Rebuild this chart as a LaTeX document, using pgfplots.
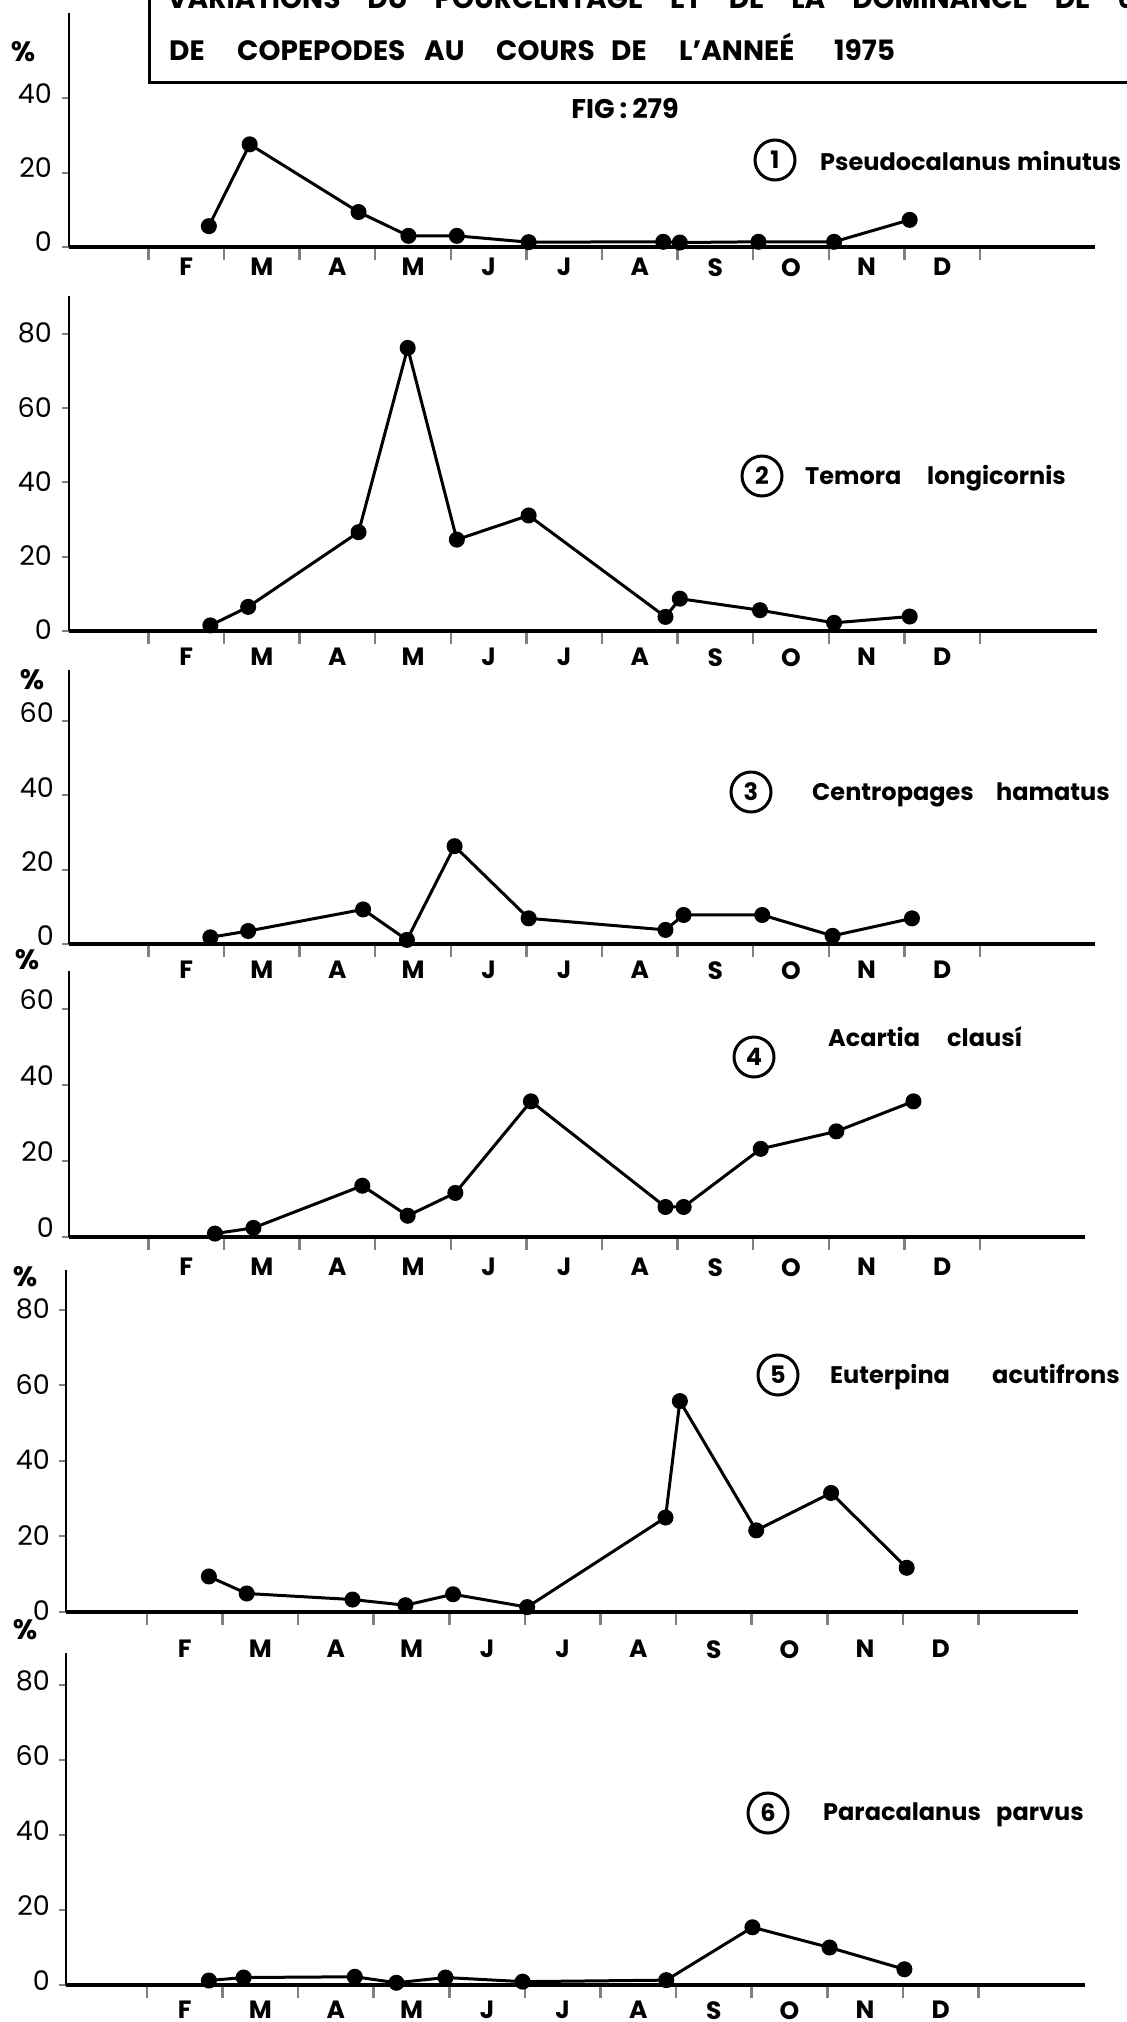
\documentclass[border=0pt]{standalone}
\usepackage{fontspec}
\setmainfont{Poppins}
\usepackage{pgfplots}
\pgfplotsset{compat=1.18}

% one picture pixel = 1pt
\newcommand\lab{\fontsize{24}{24}\selectfont\bfseries}
\newcommand\mon{\fontsize{25}{25}\selectfont\bfseries}
\newcommand\num{\fontsize{27}{27}\selectfont}

\pgfplotsset{
  copepode/.style={
    anchor=south west,
    x=75.6pt,
    axis lines=left,
    axis line style={-},
    x axis line style={line width=4pt},
    y axis line style={line width=2.5pt},
    clip=false,
    ymin=0,
    xtick={1.5,2.5,...,11.5},
    xticklabels={F,M,A,M,J,J,A,S,O,N,D},
    minor xtick={1,2,...,12},
    major x tick style={draw=none},
    minor x tick style={line width=2.5pt},
    major y tick style={line width=2pt},
    minor tick length=13pt,
    major tick length=7pt,
    tick align=outside,
    xticklabel style={font=\mon, inner sep=0pt},
    yticklabel style={font=\num, anchor=east, inner sep=0pt},
    /pgf/number format/assume math mode=true,
  },
  data/.style={black, line width=3pt, mark=*, mark size=6.5pt},
}

\begin{document}
\begin{tikzpicture}
\useasboundingbox (0,0) rectangle (1127pt,-2022pt);
\clip (0,0) rectangle (1127pt,-2022pt);

% title box
\draw[line width=3pt] (149pt,20pt) -- (149pt,-82pt) -- (1160pt,-82pt);
\begin{scope}[every node/.style={anchor=base west, inner sep=0pt, font=\fontsize{28}{28}\selectfont\bfseries}]
\node at (167pt,-8pt) {\hbox to 968pt{VARIATIONS\hfill DU\hfill POURCENTAGE\hfill ET\hfill DE\hfill LA\hfill DOMINANCE\hfill DE\hfill 6}};
\node at (169pt,-60pt) {DE};
\node at (237pt,-60pt) {COPEPODES};
\node at (424pt,-60pt) {AU};
\node at (496pt,-60pt) {COURS};
\node at (611pt,-60pt) {DE};
\node at (679pt,-60pt) {L'ANNEÉ};
\node at (834pt,-60pt) {1975};
\end{scope}
\node[anchor=base, inner sep=0pt, font=\fontsize{27}{27}\selectfont\bfseries] at (625pt,-118pt) {FIG\hspace{5pt}:\hspace{5pt}279};

% 1 Pseudocalanus minutus
\begin{axis}[copepode, at={(69pt,-247pt)}, y=3.72pt,
  xmin=-0.05, xmax=13.52, ymax=62.9,
  ytick={0,20,40}, yticklabels={0,20,40},
  xticklabel style={yshift=-4pt}, yticklabel style={xshift=-10pt, yshift=5pt}]
\addplot[data] coordinates {(1.80,5.6) (2.34,27.6) (3.78,9.4) (4.44,3.0) (5.08,3.0)
  (6.03,1.3) (7.81,1.4) (8.03,1.2) (9.07,1.4) (10.07,1.4) (11.07,7.3)};
\end{axis}

% 2 Temora longicornis
\begin{axis}[copepode, at={(69pt,-631pt)}, y=3.715pt,
  xmin=-0.05, xmax=13.55, ymax=90.3,
  ytick={0,20,40,60,80}, yticklabels={0,20,40,60,80},
  xticklabel style={yshift=-10pt}, yticklabel style={xshift=-10pt, yshift=1pt}]
\addplot[data] coordinates {(1.82,1.5) (2.32,6.5) (3.78,26.6) (4.43,76.2) (5.08,24.6)
  (6.03,31.1) (7.84,3.8) (8.03,8.7) (9.09,5.6) (10.07,2.2) (11.07,3.9)};
\end{axis}

% 3 Centropages hamatus
\begin{axis}[copepode, at={(69pt,-944pt)}, y=3.72pt,
  xmin=-0.05, xmax=13.52, ymax=73.7,
  ytick={0,20,40,60}, yticklabels={0,20,40,60},
  xticklabel style={yshift=-10pt}, yticklabel style={xshift=-8pt, yshift=8pt}]
\addplot[data] coordinates {(1.82,1.8) (2.32,3.5) (3.84,9.3) (4.42,1.1) (5.05,26.3)
  (6.03,6.9) (7.84,3.8) (8.08,7.8) (9.12,7.8) (10.05,2.2) (11.10,6.9)};
\end{axis}

% 4 Acartia clausi
\begin{axis}[copepode, at={(69pt,-1237pt)}, y=3.8pt,
  xmin=-0.05, xmax=13.39, ymax=70,
  ytick={0,20,40,60}, yticklabels={0,20,40,60},
  xticklabel style={yshift=-14pt}, yticklabel style={xshift=-8pt, yshift=9pt}]
\addplot[data] coordinates {(1.88,0.9) (2.39,2.4) (3.83,13.5) (4.43,5.6) (5.06,11.6)
  (6.06,35.7) (7.84,7.9) (8.08,7.9) (9.10,23.2) (10.10,27.8) (11.12,35.7)};
\end{axis}

% 5 Euterpina acutifrons
\begin{axis}[copepode, at={(66pt,-1612pt)}, y=3.78pt,
  xmin=-0.07, xmax=13.32, ymax=90.4,
  ytick={0,20,40,60,80}, yticklabels={0,20,40,60,80},
  xticklabel style={yshift=-21pt}, yticklabel style={xshift=-9pt, yshift=1pt}]
\addplot[data] coordinates {(1.82,9.4) (2.32,4.9) (3.72,3.3) (4.42,1.8) (5.05,4.7)
  (6.03,1.3) (7.86,25.0) (8.05,55.8) (9.06,21.6) (10.05,31.5) (11.05,11.7)};
\end{axis}

% 6 Paracalanus parvus
\begin{axis}[copepode, at={(66pt,-1985pt)}, y=3.75pt,
  xmin=-0.07, xmax=13.41, ymax=88.5,
  ytick={0,20,40,60,80}, yticklabels={0,20,40,60,80},
  xticklabel style={yshift=-9pt}, yticklabel style={xshift=-9pt, yshift=4pt}]
\addplot[data] coordinates {(1.82,1.2) (2.28,2.0) (3.75,2.2) (4.30,0.6) (4.95,2.0)
  (5.97,0.9) (7.87,1.3) (9.01,15.4) (10.03,10.0) (11.02,4.2)};
\end{axis}

% percent signs
\begin{scope}[every node/.style={inner sep=0pt, font=\fontsize{28}{28}\selectfont\bfseries}]
\node at (23pt,-52pt) {\%};
\node at (32pt,-680pt) {\%};
\node at (27pt,-960pt) {\%};
\node at (25pt,-1277pt) {\%};
\node at (25pt,-1630pt) {\%};
\end{scope}

% species labels
\begin{scope}[every node/.style={inner sep=0pt, font=\lab}]
\tikzset{num/.style={draw, circle, line width=3pt, minimum size=40pt, inner sep=0pt, font=\fontsize{24}{24}\selectfont\bfseries}}
\node[num] at (775pt,-160pt) {1};
\node[anchor=base west] at (820pt,-170pt) {Pseudocalanus};
\node[anchor=base west] at (1017pt,-170pt) {minutus};
\node[num] at (762pt,-476pt) {2};
\node[anchor=base west] at (805pt,-484pt) {Temora};
\node[anchor=base west] at (927pt,-484pt) {longicornis};
\node[num] at (751pt,-792pt) {3};
\node[anchor=base west] at (812pt,-800pt) {Centropages};
\node[anchor=base west] at (996pt,-800pt) {hamatus};
\node[num] at (754pt,-1057pt) {4};
\node[anchor=base west] at (828pt,-1046pt) {Acartia};
\node[anchor=base west] at (947pt,-1046pt) {clausí};
\node[num] at (778pt,-1375pt) {5};
\node[anchor=base west] at (830pt,-1383pt) {Euterpina};
\node[anchor=base west] at (992pt,-1383pt) {acutifrons};
\node[num] at (768pt,-1813pt) {6};
\node[anchor=base west] at (823pt,-1820pt) {Paracalanus};
\node[anchor=base west] at (996pt,-1820pt) {parvus};
\end{scope}
\end{tikzpicture}
\end{document}
